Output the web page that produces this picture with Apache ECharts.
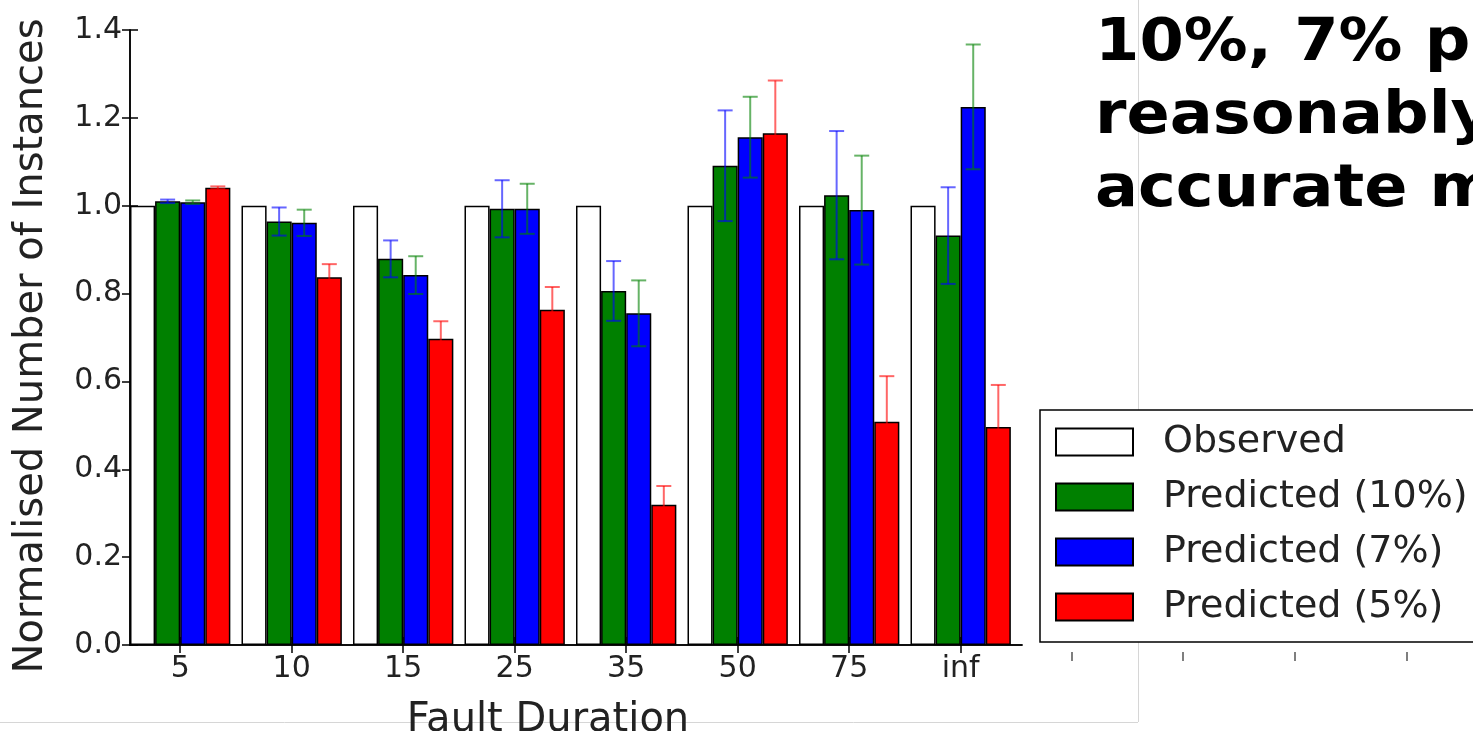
<!DOCTYPE html>
<html>
<head>
<meta charset="utf-8">
<script src="https://cdn.jsdelivr.net/npm/echarts@6/dist/echarts.min.js"></script>
<style>
  html, body { margin: 0; padding: 0; background: #fff; }
  #chart { width: 1473px; height: 731px; }
</style>
</head>
<body>
<div id="chart"></div>
<script>
// categories and values
var durations = ['5', '10', '15', '25', '35', '50', '75', 'inf']
var observed = [1.0, 1.0, 1.0, 1.0, 1.0, 1.0, 1.0, 1.0]
var pred10 = [1.010, 0.964, 0.879, 0.993, 0.806, 1.091, 1.024, 0.932]
var pred7 = [1.008, 0.961, 0.842, 0.993, 0.755, 1.156, 0.990, 1.225]
var pred5 = [1.041, 0.837, 0.697, 0.763, 0.319, 1.165, 0.508, 0.496]
var err10 = [0.004, 0.032, 0.042, 0.065, 0.068, 0.126, 0.146, 0.110]
var err7 = [0.004, 0.030, 0.043, 0.057, 0.075, 0.092, 0.124, 0.142]
var err5 = [0.003, 0.030, 0.040, 0.052, 0.043, 0.120, 0.104, 0.096]

var seriesNames = ['Observed', 'Predicted (10%)', 'Predicted (7%)', 'Predicted (5%)']
var fills = ['#ffffff', '#008000', '#0000ff', '#ff0000']
// error bar colours in the original are swapped between green and blue
var errColors = [null, 'rgba(0,0,255,0.6)', 'rgba(0,128,0,0.6)', 'rgba(255,0,0,0.6)']

var barW = 0.225          // bar width in x units, one group per unit
var groupCenter = barW * 2
var plotW = 892
var font = 'DejaVu Sans'

var tickPos = durations.map(function (d, i) { return i + groupCenter })

function barCenter (i, s) { return i + s * barW + barW / 2 }

var allVals = [observed, pred10, pred7, pred5]
var allErrs = [null, err10, err7, err5]

function errRenderer (s) {
  return function (params, api) {
    var x = api.value(0)
    var v = api.value(1)
    var e = api.value(2)
    var cx = api.coord([x, v])[0]
    var top = api.coord([x, v + e])[1]
    var bot = api.coord([x, v - e])[1]
    var st = { stroke: errColors[s], lineWidth: 2 }
    return {
      type: 'group',
      children: [
        { type: 'line', shape: { x1: cx, y1: top, x2: cx, y2: bot }, style: st },
        { type: 'line', shape: { x1: cx - 7.5, y1: top, x2: cx + 7.5, y2: top }, style: st },
        { type: 'line', shape: { x1: cx - 7.5, y1: bot, x2: cx + 7.5, y2: bot }, style: st }
      ]
    }
  }
}

var series = []
allVals.forEach(function (vals, s) {
  series.push({
    name: seriesNames[s],
    type: 'bar',
    barWidth: plotW / 8 * barW,
    barGap: '-100%',
    itemStyle: { color: fills[s], borderColor: '#000', borderWidth: 1.5 },
    z: 2,
    data: vals.map(function (v, i) { return [barCenter(i, s), v] })
  })
})
allVals.forEach(function (vals, s) {
  if (!allErrs[s]) return
  series.push({
    name: seriesNames[s] + ' error',
    type: 'custom',
    z: 3,
    renderItem: errRenderer(s),
    encode: { x: 0, y: 1 },
    data: vals.map(function (v, i) { return [barCenter(i, s), v, allErrs[s][i]] })
  })
})

var axisLine = { show: true, lineStyle: { color: '#000', width: 1.5 } }
var tickStyle = { color: '#000', width: 1.5 }

var chart = echarts.init(document.getElementById('chart'))
chart.setOption({
  animation: false,
  backgroundColor: '#fff',
  textStyle: { fontFamily: font },
  graphic: [
    { type: 'line', z: -10, shape: { x1: 1138.5, y1: 0, x2: 1138.5, y2: 722 }, style: { stroke: '#d6d6d6', lineWidth: 1 } },
    { type: 'line', z: -10, shape: { x1: 0, y1: 722.5, x2: 1138, y2: 722.5 }, style: { stroke: '#d6d6d6', lineWidth: 1 } },
    { type: 'line', shape: { x1: 1072, y1: 652, x2: 1072, y2: 661 }, style: { stroke: '#555', lineWidth: 1.5 } },
    { type: 'line', shape: { x1: 1183, y1: 652, x2: 1183, y2: 661 }, style: { stroke: '#555', lineWidth: 1.5 } },
    { type: 'line', shape: { x1: 1295, y1: 652, x2: 1295, y2: 661 }, style: { stroke: '#555', lineWidth: 1.5 } },
    { type: 'line', shape: { x1: 1407, y1: 652, x2: 1407, y2: 661 }, style: { stroke: '#555', lineWidth: 1.5 } },
    {
      type: 'text',
      x: 1095,
      y: 8,
      scaleX: 1.1,
      style: {
        text: '10%, 7% p\nreasonably\naccurate m',
        x: 0,
        y: 0,
        font: 'bold 58px "DejaVu Sans"',
        lineHeight: 73,
        fill: '#000',
        verticalAlign: 'top'
      }
    }
  ],
  legend: {
    orient: 'vertical',
    left: 1040,
    top: 410,
    icon: 'rect',
    itemWidth: 77,
    itemHeight: 27,
    itemGap: 17,
    padding: [13, 300, 16, 15],
    borderColor: '#000',
    borderWidth: 1.5,
    borderRadius: 0,
    backgroundColor: '#fff',
    textStyle: { fontFamily: font, fontSize: 38, color: '#222', padding: [0, 0, 0, 25] },
    data: seriesNames
  },
  grid: { left: 130, top: 30, width: plotW, height: 615, outerBoundsMode: 'none', containLabel: false },
  xAxis: [
    {
      type: 'value',
      min: 0,
      max: 8,
      position: 'bottom',
      axisLine: axisLine,
      splitLine: { show: false },
      axisTick: { inside: true, length: 8, customValues: tickPos, lineStyle: tickStyle },
      axisLabel: {
        customValues: tickPos,
        formatter: function (val) { return durations[Math.round(val - groupCenter)] },
        fontFamily: font,
        fontSize: 30,
        color: '#222',
        margin: 9
      },
      name: 'Fault Duration',
      nameLocation: 'middle',
      nameGap: 56,
      nameTextStyle: { fontFamily: font, fontSize: 40, color: '#222', padding: [0, 56, 0, 0] }
    },
    {
      type: 'value',
      min: 0,
      max: 8,
      position: 'top',
      axisLine: axisLine,
      splitLine: { show: false },
      axisTick: { inside: true, length: 8, customValues: tickPos, lineStyle: tickStyle },
      axisLabel: { show: false }
    }
  ],
  yAxis: [
    {
      type: 'value',
      min: 0,
      max: 1.4,
      interval: 0.2,
      axisLine: axisLine,
      splitLine: { show: false },
      axisTick: { inside: true, length: 8, lineStyle: tickStyle },
      axisLabel: {
        formatter: function (val) { return val.toFixed(1) },
        fontFamily: font,
        fontSize: 30,
        color: '#222',
        margin: 8
      },
      name: 'Normalised Number of Instances',
      nameLocation: 'middle',
      nameGap: 78,
      nameTextStyle: { fontFamily: font, fontSize: 40, color: '#222', padding: [0, 17, 0, 0] }
    },
    {
      type: 'value',
      min: 0,
      max: 1.4,
      interval: 0.2,
      position: 'right',
      axisLine: axisLine,
      splitLine: { show: false },
      axisTick: { inside: true, length: 8, lineStyle: tickStyle },
      axisLabel: { show: false }
    }
  ],
  series: series
})
</script>
</body>
</html>
